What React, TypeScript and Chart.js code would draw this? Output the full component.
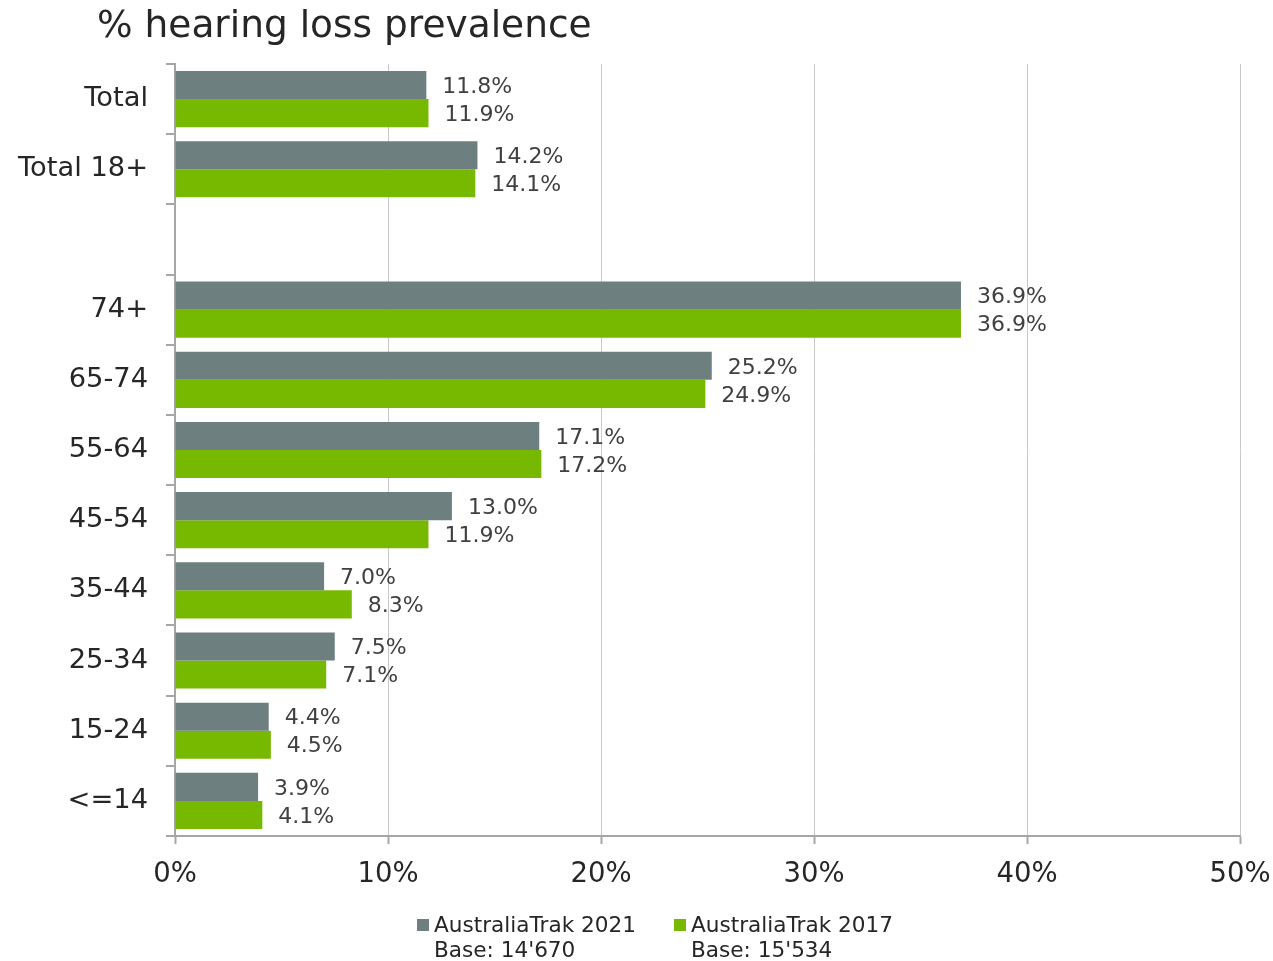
import React, { useEffect, useRef } from "react";
import { Chart, registerables } from "chart.js";

Chart.register(...registerables);

const categories = ["Total", "Total 18+", "", "74+", "65-74", "55-64", "45-54", "35-44", "25-34", "15-24", "<=14"];
const series2021 = [11.8, 14.2, null, 36.9, 25.2, 17.1, 13.0, 7.0, 7.5, 4.4, 3.9];
const series2017 = [11.9, 14.1, null, 36.9, 24.9, 17.2, 11.9, 8.3, 7.1, 4.5, 4.1];
const seriesNames = ["AustraliaTrak 2021", "AustraliaTrak 2017"];
const seriesBases = ["Base: 14'670", "Base: 15'534"];
const xTicks = [0, 10, 20, 30, 40, 50];
const titleText = "% hearing loss prevalence";

const FONT = "'DejaVu Sans', Verdana, sans-serif";
const GRAY = "#6e7f80";
const GREEN = "#77b900";
const TEXT = "#262626";
const AXIS = "#a6a6a6";

const overlayPlugin = {
  id: "overlay",
  afterDatasetsDraw(chart: any) {
    const ctx = chart.ctx;
    ctx.save();
    ctx.fillStyle = "#404040";
    ctx.font = `22px ${FONT}`;
    ctx.textAlign = "left";
    ctx.textBaseline = "middle";
    chart.data.datasets.forEach((ds: any, di: number) => {
      const meta = chart.getDatasetMeta(di);
      meta.data.forEach((bar: any, i: number) => {
        const v = ds.data[i];
        if (v === null || v === undefined) return;
        ctx.fillText(v.toFixed(1) + "%", bar.x + 16, bar.y + 2);
      });
    });
    ctx.restore();
  },
  afterDraw(chart: any) {
    const ctx = chart.ctx;
    ctx.save();
    ctx.fillStyle = "#262626";
    ctx.font = `37.5px ${FONT}`;
    ctx.textAlign = "left";
    ctx.textBaseline = "alphabetic";
    ctx.fillText(titleText, 97, 37);

    const colors = [GRAY, GREEN];
    const xs = [417, 674];
    ctx.font = `21.6px ${FONT}`;
    ctx.textBaseline = "alphabetic";
    for (let i = 0; i < 2; i++) {
      ctx.fillStyle = colors[i];
      ctx.fillRect(xs[i], 919, 12, 12);
      ctx.fillStyle = "#262626";
      ctx.fillText(seriesNames[i], xs[i] + 17, 932);
      ctx.fillText(seriesBases[i], xs[i] + 17, 957);
    }
    ctx.restore();
  },
};

export default function App() {
  const ref = useRef<HTMLCanvasElement | null>(null);
  useEffect(() => {
    if (!ref.current) return;
    const chart = new Chart(ref.current, {
      type: "bar",
      data: {
        labels: categories,
        datasets: [
          { label: seriesNames[0], data: series2021, backgroundColor: GRAY, categoryPercentage: 0.8, barPercentage: 1.0 },
          { label: seriesNames[1], data: series2017, backgroundColor: GREEN, categoryPercentage: 0.8, barPercentage: 1.0 },
        ],
      },
      options: {
        indexAxis: "y",
        animation: false,
        responsive: false,
        devicePixelRatio: 1,
        layout: { padding: { left: 0, top: 64, right: 33, bottom: 65 } },
        plugins: { legend: { display: false }, tooltip: { enabled: false }, title: { display: false } },
        scales: {
          x: {
            min: 0,
            max: 50,
            afterBuildTicks: (scale: any) => {
              scale.ticks = xTicks.map((v) => ({ value: v }));
            },
            afterFit: (scale: any) => {
              scale.height = 60;
              scale.paddingLeft = 0;
              scale.paddingRight = 0;
            },
            ticks: {
              callback: (v: any) => v + "%",
              font: { family: FONT, size: 27.5 },
              color: TEXT,
              padding: 14,
              maxRotation: 0,
            },
            grid: { color: "#c8c8c8", lineWidth: 1, tickLength: 8, tickColor: AXIS, tickWidth: 2 },
            border: { display: true, color: AXIS, width: 2 },
          },
          y: {
            type: "category",
            afterFit: (scale: any) => {
              scale.width = 175;
              scale.paddingTop = 0;
              scale.paddingBottom = 0;
            },
            ticks: {
              font: { family: FONT, size: 27.3 },
              color: TEXT,
              padding: 18,
            },
            grid: { offset: true, drawOnChartArea: false, drawTicks: true, tickLength: 9, color: AXIS, lineWidth: 2 },
            border: { display: true, color: AXIS, width: 2 },
          },
        },
      },
      plugins: [overlayPlugin],
    } as any);
    return () => chart.destroy();
  }, []);
  return (
    <div style={{ position: "fixed", left: 0, top: 0, width: 1273, height: 961, background: "#fff" }}>
      <canvas ref={ref} width={1273} height={961} />
    </div>
  );
}
